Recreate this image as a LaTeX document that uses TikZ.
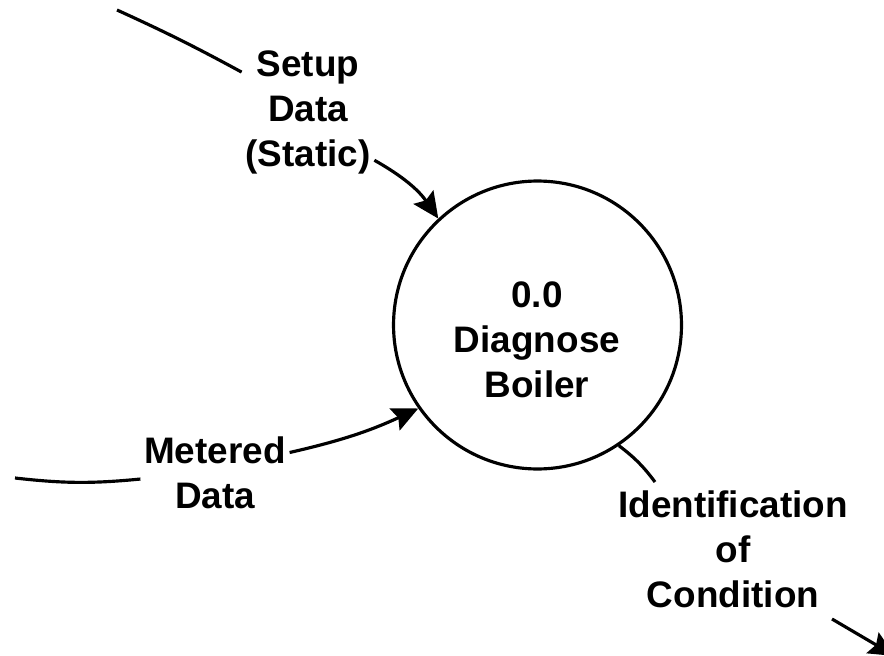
\documentclass[tikz,border=0pt]{standalone}
\usepackage{fontspec}
\setmainfont{Liberation Sans}
\usetikzlibrary{arrows.meta, positioning, calc}

\begin{document}
\begin{tikzpicture}[
  x=0.02cm, y=-0.02cm,
  proc/.style={draw, circle, line width=1.8pt, minimum size=5.76cm, inner sep=0pt},
  lbl/.style={align=center, inner sep=2pt,
              font=\fontsize{21}{25.6}\selectfont\bfseries},
  flow/.style={line width=1.8pt},
  arrow/.style={line width=1.8pt,
                -{Stealth[length=0.52cm, width=0.48cm, inset=0.08cm]}}
]
\clip (0,0) rectangle (884,655);

%% ---- process bubble ----
\node[proc] (diag) at (537.5, 325) {};
\node[lbl]  (diagtxt) at (537, 340) {0.0\\Diagnose\\Boiler};

%% ---- data flow labels ----
\node[lbl] (setup)   at (308, 112)   {Setup\\Data\\(Static)};
\node[lbl] (metered) at (215, 472.5) {Metered\\Data};
\node[lbl] (idn)     at (733, 549.5) {Identification\\of\\Condition};

%% ---- free ends ----
\coordinate (setupsrc) at (117, 10);
\coordinate (metersrc) at (15, 478);
\coordinate (idnin)    at (655, 482);
\coordinate (idnout)   at (832, 619);
\coordinate (idndst)   at (895, 656);

%% ---- flows ----
\draw[flow]  (setupsrc) to[bend left=2] (setup.149);
\draw[arrow] (setup.-36) to[bend left=13] (diag.133);

\draw[flow]  (metersrc) to[bend right=6] (metered.185);
\draw[arrow] (metered.15) to[bend right=6] (diag.215);

\draw[flow]  (diag.-56) to[bend left=8] (idnin);
\draw[arrow] (idnout) -- (idndst);

\end{tikzpicture}
\end{document}
